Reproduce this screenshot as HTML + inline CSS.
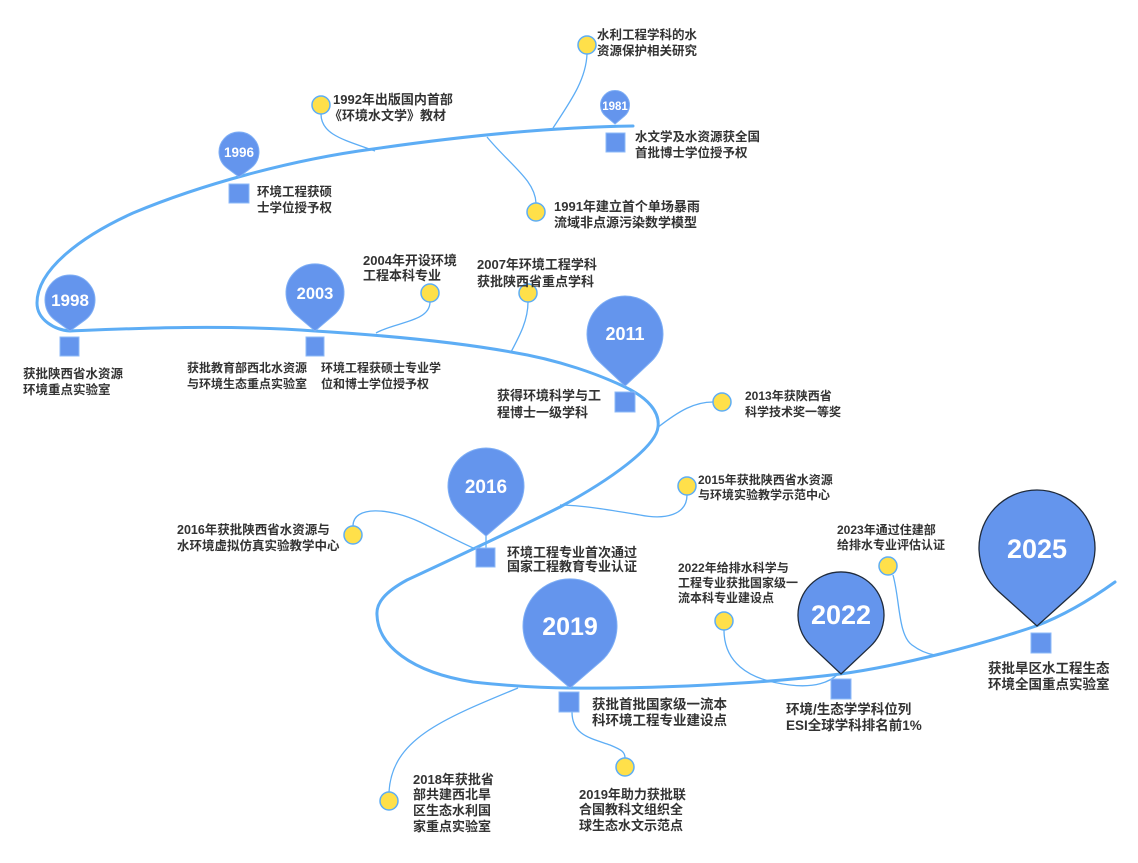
<!DOCTYPE html>
<html><head><meta charset="utf-8">
<style>
html,body{margin:0;padding:0;background:#fff;}
svg{display:block;}
.lb{font-family:"Liberation Sans","Noto Sans CJK SC",sans-serif;font-weight:bold;fill:#333;font-size:13px;}
.lb14{font-size:13.5px;}
.s12{font-size:12px;}
.s125{font-size:12.5px;}
.pn{font-family:"Liberation Sans",sans-serif;font-weight:bold;fill:#fff;text-anchor:middle;}
.pin{fill:#6495ED;stroke:#7eaef5;stroke-width:1;}
.pinD{fill:#6495ED;stroke:#1f2a3a;stroke-width:1.3;}
.sq{fill:#6495ED;stroke:#8dbaf8;stroke-width:1;}
.yc{fill:#FFE04A;stroke:#5DADF5;stroke-width:1.5;}
.cn{fill:none;stroke:#5DADF5;stroke-width:1.3;}
.ml{fill:none;stroke:#5DADF5;stroke-width:3;stroke-linecap:round;}
</style></head>
<body>
<svg width="1138" height="863" viewBox="0 0 1138 863" xmlns="http://www.w3.org/2000/svg">
<rect width="1138" height="863" fill="#fff"/>

<!-- connectors -->
<path class="cn" d="M587,54 C586,80 570,102 553,128"/>
<path class="cn" d="M321,114 C321,135 345,140 375,151"/>
<path class="cn" d="M536,203 C535,180 510,165 487,137"/>
<path class="cn" d="M430,302 C430,322 395,322 376,333"/>
<path class="cn" d="M528,302 C528,320 520,335 511,352"/>
<path class="cn" d="M657,428 C680,410 695,402 713,402"/>
<path class="cn" d="M687,495 C687,515 665,520 640,515 C610,510 580,505 560,505"/>
<path class="cn" d="M353,526 C353,505 390,508 420,522 C445,534 465,545 478,550"/>
<path class="cn" d="M486,536 L486,548"/>
<path class="cn" d="M893,575 C900,600 898,635 912,645 C920,651 928,654 935,655"/>
<path class="cn" d="M724,630 C724,660 745,680 790,685 C815,688 830,682 838,674"/>
<path class="cn" d="M389,792 C392,740 440,720 518,688"/>
<path class="cn" d="M572,712 C572,735 590,738 610,745 C622,750 625,752 625,758"/>

<!-- main line -->
<path class="ml" d="M633,126 C560,127 470,135 373,149 C290,160 200,185 133,213 C80,237 37,270 37,303 C37,320 55,330 70,331 C120,329 220,324 315,331 C380,335 450,341 511,352 C560,360 600,375 625,387 C648,398 660,412 658,427 C656,447 610,480 560,507 C520,527 450,560 407,580 C385,592 376,603 377,615 C378,645 410,672 473,682 C510,686 540,688 570,688 C650,689 760,684 840,674 C900,666 980,645 1036,626 C1065,615 1090,600 1115,582"/>

<!-- yellow circles -->
<circle class="yc" cx="587" cy="45" r="9"/>
<circle class="yc" cx="321" cy="105" r="9"/>
<circle class="yc" cx="536" cy="212" r="9"/>
<circle class="yc" cx="430" cy="293" r="9"/>
<circle class="yc" cx="528" cy="293" r="9"/>
<circle class="yc" cx="722" cy="402" r="9"/>
<circle class="yc" cx="687" cy="486" r="9"/>
<circle class="yc" cx="353" cy="535" r="9"/>
<circle class="yc" cx="888" cy="566" r="9"/>
<circle class="yc" cx="724" cy="621" r="9"/>
<circle class="yc" cx="389" cy="801" r="9"/>
<circle class="yc" cx="625" cy="767" r="9"/>

<!-- pins -->
<path class="pin" d="M615,124 L624.4,116.1 A14.5,14.5 0 1 0 605.6,116.1 Z"/>
<path class="pin" d="M239,177 L251,168 A20,20 0 1 0 227,168 Z"/>
<path class="pin" d="M70,331 L84.8,320.2 A25,25 0 1 0 55.2,320.2 Z"/>
<path class="pin" d="M315,331 L333.7,315.1 A29,29 0 1 0 296.3,315.1 Z"/>
<path class="pin" d="M625,386 L650.9,361.8 A38,38 0 1 0 599.1,361.8 Z"/>
<path class="pin" d="M486,536 L510.7,514.9 A38,38 0 1 0 461.3,514.9 Z"/>
<path class="pin" d="M570,688 L600.6,661.6 A47,47 0 1 0 539.4,661.6 Z"/>
<path class="pinD" d="M841,674 L870.4,646.3 A43,43 0 1 0 811.6,646.3 Z"/>
<path class="pinD" d="M1037,626 L1075.8,591.1 A58,58 0 1 0 998.2,591.1 Z"/>

<text class="pn" x="615" y="110" font-size="11.5">1981</text>
<text class="pn" x="239" y="157" font-size="13.5">1996</text>
<text class="pn" x="70" y="306" font-size="17">1998</text>
<text class="pn" x="315" y="299" font-size="16.5">2003</text>
<text class="pn" x="625" y="340" font-size="18">2011</text>
<text class="pn" x="486" y="493" font-size="19">2016</text>
<text class="pn" x="570" y="635" font-size="25">2019</text>
<text class="pn" x="841" y="624" font-size="27">2022</text>
<text class="pn" x="1037" y="558" font-size="27">2025</text>

<!-- squares -->
<rect class="sq" x="606" y="133" width="19" height="19"/>
<rect class="sq" x="229" y="184" width="20" height="19"/>
<rect class="sq" x="60" y="337" width="19" height="19"/>
<rect class="sq" x="306" y="337" width="18" height="19"/>
<rect class="sq" x="615" y="392" width="20" height="20"/>
<rect class="sq" x="476" y="548" width="19" height="19"/>
<rect class="sq" x="559" y="692" width="20" height="20"/>
<rect class="sq" x="831" y="679" width="20" height="20"/>
<rect class="sq" x="1031" y="633" width="20" height="20"/>

<!-- labels -->
<text class="lb s125"><tspan x="597" y="39">水利工程学科的水</tspan><tspan x="597" y="55">资源保护相关研究</tspan></text>
<text class="lb"><tspan x="333" y="104">1992年出版国内首部</tspan><tspan x="329" y="120">《环境水文学》教材</tspan></text>
<text class="lb s125"><tspan x="635" y="141">水文学及水资源获全国</tspan><tspan x="635" y="157">首批博士学位授予权</tspan></text>
<text class="lb s125"><tspan x="257" y="196">环境工程获硕</tspan><tspan x="257" y="212">士学位授予权</tspan></text>
<text class="lb"><tspan x="554" y="211">1991年建立首个单场暴雨</tspan><tspan x="554" y="227">流域非点源污染数学模型</tspan></text>
<text class="lb"><tspan x="363" y="265">2004年开设环境</tspan><tspan x="363" y="280">工程本科专业</tspan></text>
<text class="lb"><tspan x="477" y="269">2007年环境工程学科</tspan><tspan x="477" y="286">获批陕西省重点学科</tspan></text>
<text class="lb s125"><tspan x="23" y="378">获批陕西省水资源</tspan><tspan x="23" y="394">环境重点实验室</tspan></text>
<text class="lb s12"><tspan x="187" y="372">获批教育部西北水资源</tspan><tspan x="187" y="388">与环境生态重点实验室</tspan></text>
<text class="lb s12"><tspan x="321" y="372">环境工程获硕士专业学</tspan><tspan x="321" y="388">位和博士学位授予权</tspan></text>
<text class="lb"><tspan x="497" y="400">获得环境科学与工</tspan><tspan x="497" y="417">程博士一级学科</tspan></text>
<text class="lb s12"><tspan x="745" y="400">2013年获陕西省</tspan><tspan x="745" y="416">科学技术奖一等奖</tspan></text>
<text class="lb s12"><tspan x="698" y="484">2015年获批陕西省水资源</tspan><tspan x="698" y="499">与环境实验教学示范中心</tspan></text>
<text class="lb s125"><tspan x="177" y="534">2016年获批陕西省水资源与</tspan><tspan x="177" y="550">水环境虚拟仿真实验教学中心</tspan></text>
<text class="lb"><tspan x="507" y="557">环境工程专业首次通过</tspan><tspan x="507" y="571">国家工程教育专业认证</tspan></text>
<text class="lb s12"><tspan x="837" y="534">2023年通过住建部</tspan><tspan x="837" y="549">给排水专业评估认证</tspan></text>
<text class="lb s12"><tspan x="678" y="572">2022年给排水科学与</tspan><tspan x="678" y="587">工程专业获批国家级一</tspan><tspan x="678" y="602">流本科专业建设点</tspan></text>
<text class="lb lb14"><tspan x="988" y="673">获批旱区水工程生态</tspan><tspan x="988" y="689">环境全国重点实验室</tspan></text>
<text class="lb lb14"><tspan x="592" y="709">获批首批国家级一流本</tspan><tspan x="592" y="725">科环境工程专业建设点</tspan></text>
<text class="lb lb14"><tspan x="786" y="714">环境/生态学学科位列</tspan><tspan x="786" y="730">ESI全球学科排名前1%</tspan></text>
<text class="lb"><tspan x="413" y="784">2018年获批省</tspan><tspan x="413" y="799">部共建西北旱</tspan><tspan x="413" y="815">区生态水利国</tspan><tspan x="413" y="831">家重点实验室</tspan></text>
<text class="lb"><tspan x="579" y="799">2019年助力获批联</tspan><tspan x="579" y="814">合国教科文组织全</tspan><tspan x="579" y="830">球生态水文示范点</tspan></text>
</svg>
</body></html>
